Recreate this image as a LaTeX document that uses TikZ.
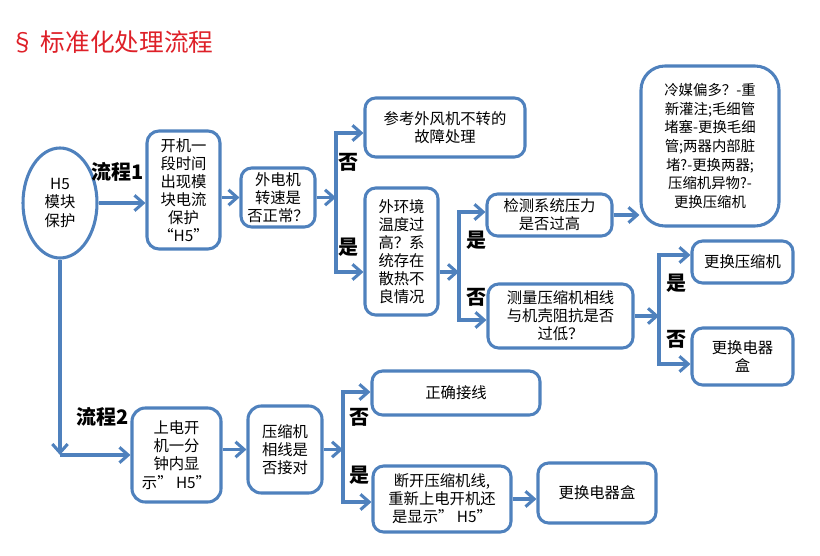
\documentclass[tikz,border=0pt]{standalone}
\usepackage{fontspec}
\setmainfont{Noto Sans CJK SC}
\usetikzlibrary{shapes.geometric,arrows.meta}
\definecolor{boxblue}{RGB}{79,129,189}
\definecolor{titlered}{RGB}{222,32,40}

\begin{document}
\begin{tikzpicture}[x=0.75pt, y=-0.75pt,
    blk/.style={draw=boxblue, line width=2.3pt, rounded corners=8pt, align=center,
        inner sep=1pt, font=\fontsize{11.5}{13.6}\selectfont},
    arr/.style={draw=boxblue, line width=2.3pt, line join=miter,
        -{Straight Barb[length=6.5pt,width=11.5pt]}},
    lbl/.style={font=\fontsize{15}{16}\selectfont\bfseries}]
    \useasboundingbox (0,0) rectangle (820,556);

    % Title
    \node[anchor=west, text=titlered, font=\fontsize{18.5}{22}\selectfont] (title) at (6,42) {§ 标准化处理流程};

    % Start
    \node[blk, ellipse, minimum width=55.5pt, minimum height=82.5pt, inner sep=0pt] (h5) at (60,203) {H5\\模块\\保护};

    % Flow 1
    \node[lbl] (lab1) at (118,172) {流程1};
    \node[blk, minimum width=54.75pt, minimum height=88.5pt, rounded corners=9pt] (box1) at (183.5,190) {开机一\\段时间\\出现模\\块电流\\保护\\“H5”};
    \node[blk, minimum width=55.5pt, minimum height=44.25pt] (box2) at (278,197.5) {外电机\\转速是\\否正常？};
    \node[blk, minimum width=120pt, minimum height=44.25pt] (box3) at (445,127.5) {参考外风机不转的\\故障处理};
    \node[blk, minimum width=54.75pt, minimum height=95.25pt] (box4) at (401.5,251.5) {外环境\\温度过\\高？系\\统存在\\散热不\\良情况};
    \node[blk, minimum width=93.75pt, minimum height=31.5pt] (box5) at (549.5,215) {检测系统压力\\是否过高};
    \node[blk, minimum width=108.75pt, minimum height=48pt] (box6) at (560.5,316) {测量压缩机相线\\与机壳阻抗是否\\过低？};
    \node[blk, minimum width=103.5pt, minimum height=120pt, rounded corners=18pt, font=\fontsize{10.8}{13.9}\selectfont] (box7) at (710,146) {冷媒偏多？-重\\新灌注;毛细管\\堵塞-更换毛细\\管;两器内部脏\\堵?-更换两器;\\压缩机异物?-\\更换压缩机};
    \node[blk, minimum width=75.75pt, minimum height=31.5pt] (box8) at (742.5,262) {更换压缩机};
    \node[blk, minimum width=75.75pt, minimum height=42.75pt] (box9) at (742.5,356.5) {更换电器\\盒};

    % Flow 2
    \node[lbl] (lab2) at (103,417) {流程2};
    \node[blk, minimum width=66.75pt, minimum height=70.5pt, rounded corners=10pt] (box10) at (176.5,455) {上电开\\机一分\\钟内显\\示”\ H5”};
    \node[blk, minimum width=55.5pt, minimum height=65.25pt, rounded corners=10pt] (box11) at (285,449.5) {压缩机\\相线是\\否接对};
    \node[blk, minimum width=126pt, minimum height=33pt] (box12) at (456,393) {正确接线};
    \node[blk, minimum width=103.5pt, minimum height=49.5pt] (box13) at (442,499) {断开压缩机线,\\重新上电开机还\\是显示”\ H5”};
    \node[blk, minimum width=88.5pt, minimum height=45pt] (box14) at (597,493) {更换电器盒};

    % bracket points
    \coordinate (b1top) at (336,133);
    \coordinate (b1bot) at (336,272);
    \coordinate (b2top) at (459,212);
    \coordinate (b2in) at (459,272);
    \coordinate (b2bot) at (459,320);
    \coordinate (b3top) at (659,255);
    \coordinate (b3bot) at (659,364);
    \coordinate (b4top) at (343,392);
    \coordinate (b4bot) at (343,502);

    % Flow 1 arrows
    \draw[arr] (h5.east) -- (h5.east -| box1.west);
    \draw[arr] (box1.east |- box2.west) -- (box2.west);
    \draw[arr] (box2.east) -- (box2.east -| b1top);
    \draw[arr] (b1bot) -- (b1top) -- (b1top -| box3.west);
    \draw[arr] (b1top) -- (b1bot) -- (b1bot -| box4.west);
    \node[lbl] (no1) at (348,162) {否};
    \node[lbl] (yes1) at (348,247) {是};

    \draw[arr] (b2in -| box4.east) -- (b2in);
    \draw[arr] (b2bot) -- (b2top) -- (b2top -| box5.west);
    \draw[arr] (b2top) -- (b2bot) -- (b2bot -| box6.west);
    \node[lbl] (yes2) at (476,240) {是};
    \node[lbl] (no2) at (476,297) {否};

    \draw[arr] (box5.east) -- (box5.east -| box7.west);
    \draw[arr] (box6.east) -- (box6.east -| b3top);
    \draw[arr] (b3bot) -- (b3top) -- (b3top -| box8.west);
    \draw[arr] (b3top) -- (b3bot) -- (b3bot -| box9.west);
    \node[lbl] (yes3) at (676,283) {是};
    \node[lbl] (no3) at (676,339) {否};

    % Flow 2 arrows
    \draw[arr] (h5.south) -- (h5.south |- box10.west);
    \draw[arr] (h5.south |- box10.west) -- (box10.west);
    \draw[arr] (box10.east |- box11.west) -- (box11.west);
    \draw[arr] (box11.east) -- (box11.east -| b4top);
    \draw[arr] (b4bot) -- (b4top) -- (b4top -| box12.west);
    \draw[arr] (b4top) -- (b4bot) -- (b4bot -| box13.west);
    \node[lbl] (no4) at (359,417) {否};
    \node[lbl] (yes4) at (359,475) {是};
    \draw[arr] (box13.east) -- (box13.east -| box14.west);
\end{tikzpicture}
\end{document}
